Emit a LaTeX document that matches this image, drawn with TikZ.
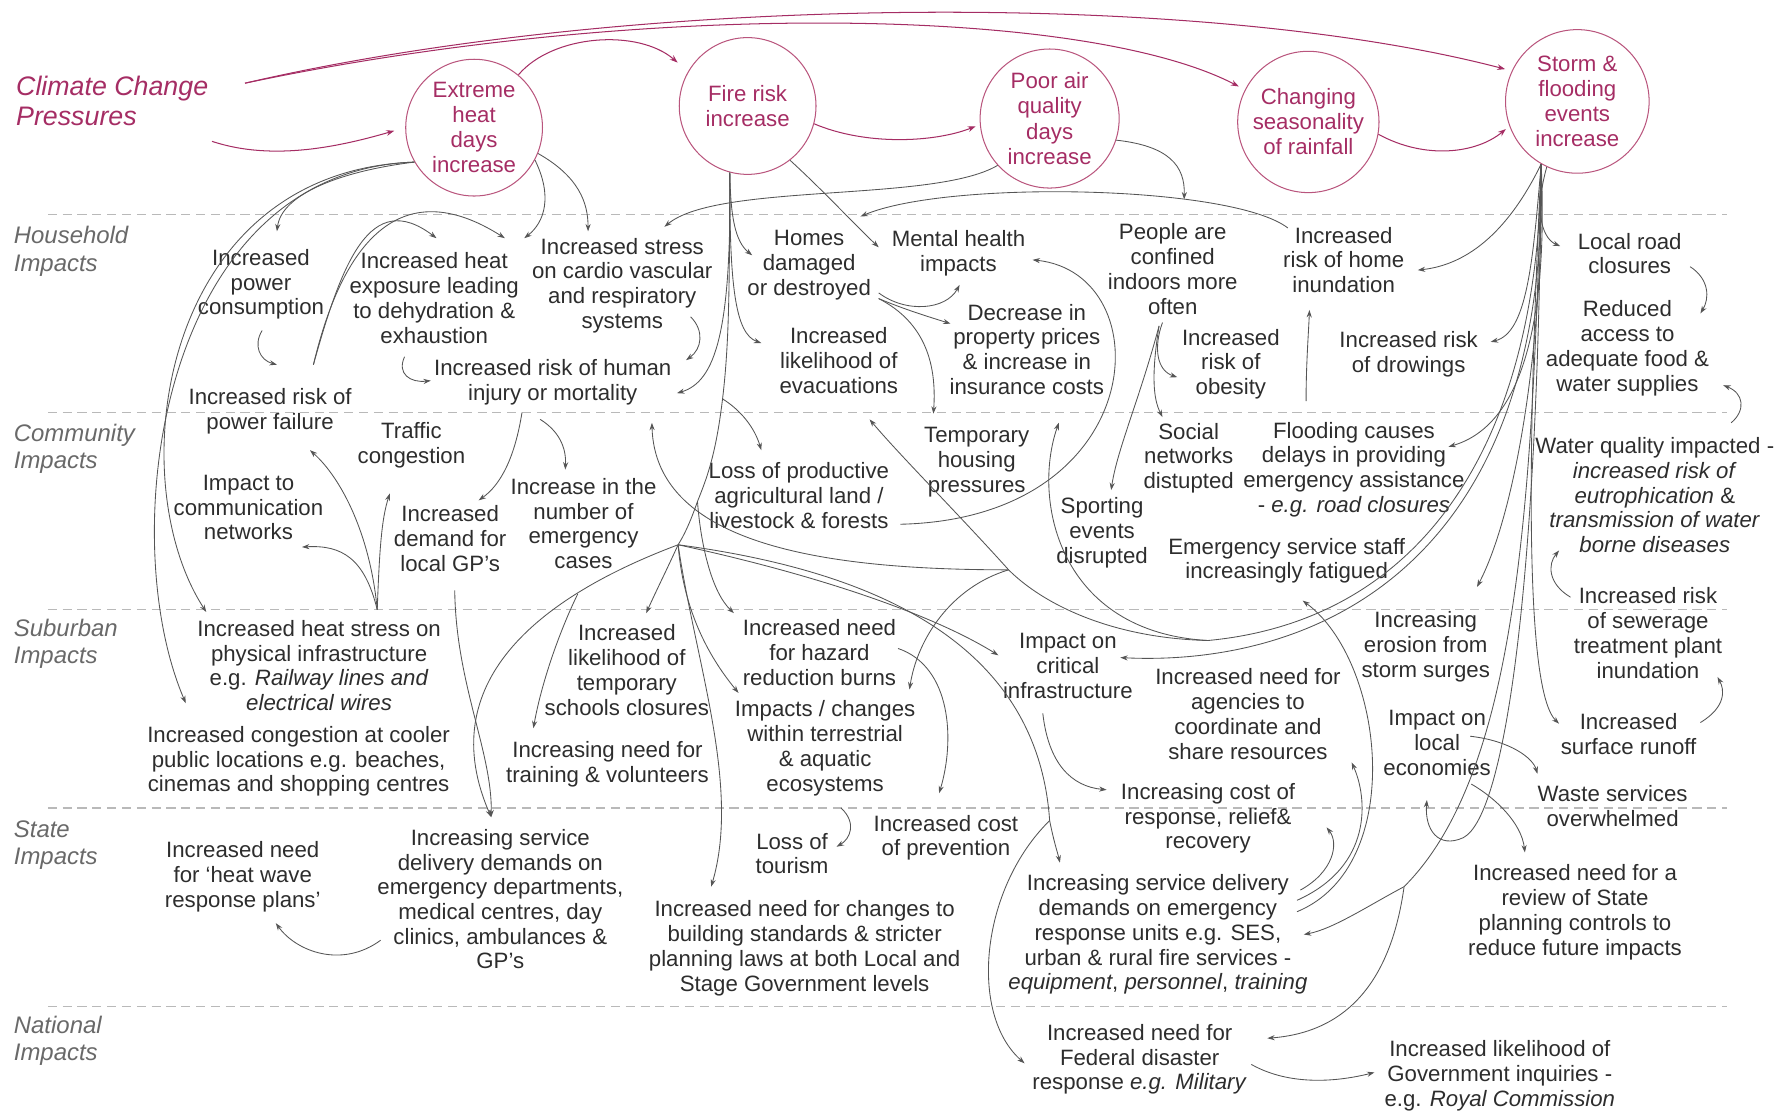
\documentclass[tikz,border=0pt]{standalone}
\usepackage{fontspec}
\setmainfont{Liberation Sans}
\usetikzlibrary{arrows.meta}
\definecolor{pinkc}{RGB}{165,45,100}
\definecolor{pinkl}{RGB}{185,85,125}
\definecolor{txt}{RGB}{45,45,45}
\definecolor{lab}{RGB}{105,105,105}
\definecolor{lnc}{RGB}{85,85,85}
\definecolor{dashc}{RGB}{185,185,185}
\begin{document}
\begin{tikzpicture}[x=1pt,y=1pt,
  tx/.style={align=center, text=txt, font=\fontsize{19.5}{21.7}\selectfont, inner sep=0pt},
  cir/.style={circle, draw=pinkl, line width=0.9pt, text=pinkc, align=center, font=\fontsize{19.5}{22}\selectfont, inner sep=0pt},
  rowlab/.style={anchor=west, align=left, text=lab, font=\fontsize{21}{24}\selectfont\itshape, inner sep=0pt},
  conn/.style={draw=lnc, line width=0.75pt, -{Stealth[length=6.5pt,width=4.5pt]}},
  trunk/.style={draw=lnc, line width=0.75pt},
  pconn/.style={draw=pinkc, line width=0.9pt, -{Stealth[length=7pt,width=5pt]}},
  sepline/.style={draw=dashc, line width=1pt, dash pattern=on 8pt off 5pt}]
\useasboundingbox (0,0) rectangle (1568,-976);

% separators
\draw[sepline] (42,-188) -- (1515,-188);
\draw[sepline] (42,-362) -- (1515,-362);
\draw[sepline] (42,-535) -- (1515,-535);
\draw[sepline] (42,-709) -- (1515,-709);
\draw[sepline] (42,-883) -- (1515,-883);

% labels
\node[rowlab, text=pinkc, font=\fontsize{23.5}{27}\selectfont\itshape] (ccp) at (14,-88.5) {Climate Change\\Pressures};
\node[rowlab] (hh) at (12,-220.5) {Household\\Impacts};
\node[rowlab] (com) at (12,-394) {Community\\Impacts};
\node[rowlab] (sub) at (12,-565) {Suburban\\Impacts};
\node[rowlab] (sta) at (12,-741.5) {State\\Impacts};
\node[rowlab] (nat) at (12,-913) {National\\Impacts};
\coordinate (ccpA) at (186,-124);
\coordinate (ccpB) at (215,-73);

% pressures
\node[cir, minimum size=120pt] (E) at (416,-112) {Extreme\\heat\\days\\increase};
\node[cir, minimum size=120pt] (F) at (656,-93) {Fire risk\\increase};
\node[cir, minimum size=122pt] (P) at (921,-104) {Poor air\\quality\\days\\increase};
\node[cir, minimum size=124pt] (C) at (1148,-107) {Changing\\seasonality\\of rainfall};
\node[cir, minimum size=126pt] (S) at (1384,-89) {Storm \&\\flooding\\events\\increase};

% household
\node[tx] (pc) at (229,-249.5) {Increased\\power\\consumption};
\node[tx] (he) at (381,-261.5) {Increased heat\\exposure leading\\to dehydration \&\\exhaustion};
\node[tx] (st) at (546,-250.5) {Increased stress\\on cardio vascular\\and respiratory\\systems};
\node[tx] (hd) at (710,-232.5) {Homes\\damaged\\or destroyed};
\node[tx] (mh) at (841,-222) {Mental health\\impacts};
\node[tx] (pcf) at (1029,-236) {People are\\confined\\indoors more\\often};
\node[tx] (rhi) at (1179,-228) {Increased\\risk of home\\inundation};
\node[tx] (lrc) at (1430,-222.5) {Local road\\closures};
\node[tx] (raf) at (1428,-305.5) {Reduced\\access to\\adequate food \&\\water supplies};
\node[tx] (ir) at (485,-335.5) {Increased risk of human\\injury or mortality};
\node[tx] (ev) at (736,-316.5) {Increased\\likelihood of\\evacuations};
\node[tx] (dp) at (901,-306.5) {Decrease in\\property prices\\\& increase in\\insurance costs};
\node[tx] (ob) at (1080,-319.5) {Increased\\risk of\\obesity};
\node[tx] (dr) at (1236,-311) {Increased risk\\of drowings};
\node[tx] (pf) at (237,-361) {Increased risk of\\power failure};

% community
\node[tx] (tc) at (361,-391) {Traffic\\congestion};
\node[tx] (icn) at (218,-445.5) {Impact to\\communication\\networks};
\node[tx] (gp) at (395,-472.5) {Increased\\demand for\\local GP's};
\node[tx] (ec) at (512,-459.5) {Increase in the\\number of\\emergency\\cases};
\node[tx] (lp) at (701,-435) {Loss of productive\\agricultural land /\\livestock \& forests};
\node[tx] (th) at (857,-405.5) {Temporary\\housing\\pressures};
\node[tx] (sn) at (1043,-402) {Social\\networks\\distupted};
\node[tx] (fc) at (1188,-412) {Flooding causes\\delays in providing\\emergency assistance\\- \textit{e.g. road closures}};
\node[tx] (se) at (967,-467.5) {Sporting\\events\\disrupted};
\node[tx] (esf) at (1129,-492) {Emergency service staff\\increasingly fatigued};
\node[tx] (wq) at (1452,-434.5) {Water quality impacted -\\\textit{increased risk of}\\\textit{eutrophication} \&\\\textit{transmission of water}\\\textit{borne diseases}};
\node[tx] (sw) at (1446,-555.5) {Increased risk\\of sewerage\\treatment plant\\inundation};

% suburban
\node[tx] (hs) at (280,-584) {Increased heat stress on\\physical infrastructure\\e.g. \textit{Railway lines and}\\\textit{electrical wires}};
\node[tx] (cc) at (262,-668) {Increased congestion at cooler\\public locations e.g. beaches,\\cinemas and shopping centres};
\node[tx] (sc) at (550,-588) {Increased\\likelihood of\\temporary\\schools closures};
\node[tx] (tv) at (533,-670.5) {Increasing need for\\training \& volunteers};
\node[tx] (hr) at (719,-572.5) {Increased need\\for hazard\\reduction burns};
\node[tx] (eco) at (724,-656.5) {Impacts / changes\\within terrestrial\\\& aquatic\\ecosystems};
\node[tx] (ci) at (937,-584.5) {Impact on\\critical\\infrastructure};
\node[tx] (ag) at (1095,-626.5) {Increased need for\\agencies to\\coordinate and\\share resources};
\node[tx] (er) at (1251,-567.5) {Increasing\\erosion from\\storm surges};
\node[tx] (le) at (1261,-652) {Impact on\\local\\economies};
\node[tx] (sr) at (1429,-644) {Increased\\surface runoff};
\node[tx] (ws) at (1415,-707) {Waste services\\overwhelmed};
\node[tx] (icr) at (1060,-718) {Increasing cost of\\response, relief\&\\recovery};
\node[tx] (cp) at (830,-735) {Increased cost\\of prevention};

% state
\node[tx] (hw) at (213,-769.5) {Increased need\\for `heat wave\\response plans'};
\node[tx] (sd) at (439,-789) {Increasing service\\delivery demands on\\emergency departments,\\medical centres, day\\clinics, ambulances \&\\GP's};
\node[tx] (lt) at (695,-749) {Loss of\\tourism};
\node[tx] (bs) at (706,-832) {Increased need for changes to\\building standards \& stricter\\planning laws at both Local and\\Stage Government levels};
\node[tx] (ru) at (1016,-820) {Increasing service delivery\\demands on emergency\\response units e.g. SES,\\urban \& rural fire services -\\\textit{equipment}, \textit{personnel}, \textit{training}};
\node[tx] (rv) at (1382,-800.5) {Increased need for a\\review of State\\planning controls to\\reduce future impacts};

% national
\node[tx] (fd) at (1000,-929.5) {Increased need for\\Federal disaster\\response \textit{e.g. Military}};
\node[tx] (gi) at (1316,-944) {Increased likelihood of\\Government inquiries -\\e.g. \textit{Royal Commission}};

% junctions
\coordinate (jA) at (634,-350);
\coordinate (jB) at (612,-440);
\coordinate (jC) at (595,-478);
\coordinate (jR) at (921,-720);
\coordinate (jSR) at (1232,-778);
\coordinate (jS1) at (1060,-562);
\coordinate (jS2) at (885,-500);

% pink connectors
\draw[pconn, shorten >=10pt] (ccpA) .. controls (240,-142) and (300,-128) .. (E.180);
\draw[pconn, shorten >=6pt] (ccpB) .. controls (550,5) and (1050,10) .. (S.155);
\draw[pconn, shorten >=6pt] (ccpB) .. controls (560,0) and (950,-5) .. (C.153);
\draw[pconn, shorten >=12pt] (E.50) .. controls (485,-30) and (560,-25) .. (F.150);
\draw[pconn, shorten >=4pt] (F.-15) .. controls (760,-128) and (820,-125) .. (P.185);
\draw[pconn, shorten >=4pt] (C.-10) .. controls (1250,-140) and (1295,-135) .. (S.200);

% extreme heat
\draw[conn] (E.210) .. controls (300,-150) and (247,-170) .. ([shift={(14,46.5)}]pc.center);
\draw[conn] (E.210) .. controls (140,-150) and (105,-420) .. ([shift={(-99,47)}]hs.center);
\draw[conn] (E.210) .. controls (140,-150) and (100,-470) .. ([shift={(-99,51)}]cc.center);
\draw[conn] (E.-28) .. controls (485,-172) and (478,-195) .. ([shift={(79,52.5)}]he.center);
\draw[conn] (E.-22) .. controls (508,-155) and (516,-178) .. ([shift={(-30,47.5)}]st.center);
\draw[conn] ([shift={(1,-40.5)}]pc.center) .. controls (222,-303) and (228,-316) .. ([shift={(6,41)}]pf.center);
\draw[conn] ([shift={(38,41)}]pf.center) .. controls (300,-230) and (325,-165) .. ([shift={(2,52.5)}]he.center);
\draw[conn] ([shift={(38,41)}]pf.center) .. controls (300,-215) and (350,-150) .. ([shift={(62,52.5)}]he.center);
\draw[conn] ([shift={(-26,-51.5)}]he.center) .. controls (348,-328) and (360,-336) .. ([shift={(-107,1.5)}]ir.center);
\draw[conn] ([shift={(60,-27.5)}]st.center) .. controls (618,-290) and (616,-306) .. ([shift={(117,19.5)}]ir.center);
\draw[conn] (P.222) .. controls (820,-178) and (630,-160) .. ([shift={(37,51.5)}]st.center);

% fire
\draw[conn] (F.255) .. controls (641,-190) and (645,-212) .. ([shift={(-50,8.5)}]hd.center);
\draw[conn] (F.255) .. controls (640,-250) and (645,-293) .. ([shift={(-68,15.5)}]ev.center);
\draw[conn] (F.255) .. controls (642,-290) and (628,-335) .. ([shift={(109,-9.5)}]ir.center);
\draw[conn] (F.-52) .. controls (720,-165) and (748,-195) .. ([shift={(-70,5)}]mh.center);
\draw[trunk] (F.255) .. controls (640,-250) and (640,-300) .. (jA) .. controls (628,-400) and (620,-420) .. (jB) .. controls (605,-460) and (600,-470) .. (jC);
\draw[conn] (jA) .. controls (650,-360) and (662,-375) .. ([shift={(-33,40)}]lp.center);
\draw[conn] (jB) .. controls (615,-480) and (625,-520) .. ([shift={(-75,34.5)}]hr.center);
\draw[conn] (jC) .. controls (585,-500) and (575,-520) .. ([shift={(17,50)}]sc.center);
\draw[conn] (jC) .. controls (600,-540) and (625,-580) .. ([shift={(-76,48.5)}]eco.center);
\draw[conn] (jC) .. controls (610,-580) and (650,-690) .. ([shift={(-82,54)}]bs.center);
\draw[conn] (jC) .. controls (470,-525) and (380,-600) .. ([shift={(-8,72)}]sd.center);
\draw[conn] (jC) .. controls (720,-505) and (820,-540) .. ([shift={(-61,9.5)}]ci.center);
\draw[conn] (jC) .. controls (760,-500) and (910,-560) .. (jR) .. controls (925,-740) and (928,-748) .. ([shift={(-86,63)}]ru.center);
\draw[conn] (jR) .. controls (860,-780) and (850,-890) .. ([shift={(-101,-3.5)}]fd.center);

% household others
\draw[conn] ([shift={(-49,28)}]rhi.center) .. controls (1080,-162) and (830,-158) .. ([shift={(45,42.5)}]hd.center);
\draw[conn] (P.-18) .. controls (1025,-128) and (1040,-145) .. ([shift={(10,61)}]pcf.center);
\draw[conn] ([shift={(61,-24.5)}]hd.center) .. controls (795,-275) and (830,-272) .. ([shift={(1,-28)}]mh.center);
\draw[conn] ([shift={(61,-29.5)}]hd.center) .. controls (795,-272) and (815,-278) .. ([shift={(-67,22.5)}]dp.center);
\draw[conn] ([shift={(61,-29.5)}]hd.center) .. controls (812,-283) and (822,-320) .. ([shift={(-38,42.5)}]th.center);
\draw[conn] ([shift={(89,-25)}]lp.center) .. controls (1010,-455) and (1020,-240) .. ([shift={(65,-6)}]mh.center);
\draw[conn] ([shift={(-9,-47)}]pcf.center) .. controls (1012,-305) and (1015,-325) .. ([shift={(-47,-11.5)}]ob.center);
\draw[conn] ([shift={(-12,-50)}]pcf.center) .. controls (1000,-350) and (980,-395) .. ([shift={(8,37.5)}]se.center);
\draw[conn] ([shift={(-12,-50)}]pcf.center) .. controls (1010,-330) and (1012,-350) .. ([shift={(-23,36)}]sn.center);

% storm
\draw[conn] (S.240) .. controls (1325,-200) and (1290,-232) .. ([shift={(65,-9)}]rhi.center);
\draw[conn] (S.245) .. controls (1345,-190) and (1355,-210) .. ([shift={(-61,6.5)}]lrc.center);
\draw[conn] (S.240) .. controls (1345,-230) and (1340,-292) .. ([shift={(72,11)}]dr.center);
\draw[conn] (S.240) .. controls (1358,-270) and (1340,-372) .. ([shift={(83,20)}]fc.center);
\draw[conn] (S.240) .. controls (1355,-300) and (1330,-450) .. ([shift={(45,52.5)}]er.center);
\draw[conn] (S.240) .. controls (1345,-300) and (1332,-600) .. ([shift={(-61,9)}]sr.center);
\draw[conn] (S.240) .. controls (1345,-450) and (1330,-680) .. (jSR) .. controls (1200,-795) and (1170,-815) .. ([shift={(128,0)}]ru.center);
\draw[conn] (jSR) .. controls (1222,-850) and (1190,-905) .. ([shift={(112,18.5)}]fd.center);
\draw[conn] (S.240) .. controls (1350,-500) and (1322,-715) .. (1284,-735) .. controls (1262,-745) and (1250,-728) .. ([shift={(-9,-50)}]le.center);
\draw[trunk] (S.240) .. controls (1350,-400) and (1240,-545) .. (jS1) .. controls (975,-560) and (915,-530) .. (jS2);
\draw[conn] (jS2) .. controls (840,-450) and (790,-400) .. ([shift={(27,-51.5)}]ev.center);
\draw[conn] (jS2) .. controls (730,-500) and (575,-480) .. ([shift={(87,-35.5)}]ir.center);
\draw[conn] (jS2) .. controls (835,-515) and (805,-560) .. ([shift={(74,51.5)}]eco.center);
\draw[conn] (jS1) .. controls (930,-555) and (905,-440) .. ([shift={(28,-64.5)}]dp.center);
\draw[conn] (S.240) .. controls (1360,-500) and (1150,-585) .. ([shift={(46,7.5)}]ci.center);

% right column
\draw[conn] ([shift={(29,6)}]le.center) .. controls (1325,-650) and (1345,-665) .. ([shift={(-66,28)}]ws.center);
\draw[conn] ([shift={(30,-36)}]le.center) .. controls (1312,-700) and (1335,-722) .. ([shift={(-44,52.5)}]rv.center);
\draw[conn] ([shift={(-68,31.5)}]sw.center) .. controls (1358,-512) and (1358,-495) .. ([shift={(-84,-48.5)}]wq.center);
\draw[conn] ([shift={(63,10)}]sr.center) .. controls (1515,-620) and (1513,-605) .. ([shift={(61,-38.5)}]sw.center);
\draw[conn] ([shift={(53,-11.5)}]lrc.center) .. controls (1500,-245) and (1500,-262) .. ([shift={(64,30.5)}]raf.center);
\draw[conn] ([shift={(67,63.5)}]wq.center) .. controls (1532,-360) and (1530,-345) .. ([shift={(84,-32.5)}]raf.center);
\draw[conn] ([shift={(-42,60)}]fc.center) .. controls (1146,-320) and (1148,-295) .. ([shift={(-30,-44)}]rhi.center);

% community / suburban left
\draw[conn] ([shift={(-27,-26.5)}]ir.center) .. controls (452,-400) and (440,-425) .. ([shift={(25,33.5)}]gp.center);
\draw[conn] ([shift={(-11,-32.5)}]ir.center) .. controls (490,-378) and (497,-392) .. ([shift={(-16,47.5)}]ec.center);
\draw[conn] ([shift={(51,49)}]hs.center) .. controls (325,-470) and (300,-420) .. ([shift={(35,-34)}]pf.center);
\draw[conn] ([shift={(51,49)}]hs.center) .. controls (333,-480) and (335,-455) .. ([shift={(-19,-42)}]tc.center);
\draw[conn] ([shift={(51,49)}]hs.center) .. controls (320,-490) and (300,-478) .. ([shift={(47,-34.5)}]icn.center);
\draw[conn] ([shift={(4,-45.5)}]gp.center) .. controls (400,-600) and (432,-660) .. ([shift={(-8,72)}]sd.center);
\draw[conn] ([shift={(-5,-61.5)}]ec.center) .. controls (490,-556) and (475,-600) .. ([shift={(-65,31.5)}]tv.center);

% lower middle
\draw[conn] ([shift={(98,-4.5)}]fd.center) .. controls (1130,-952) and (1170,-950) .. ([shift={(-110,3)}]gi.center);
\draw[conn] ([shift={(69,3.5)}]hr.center) .. controls (835,-585) and (838,-650) .. ([shift={(-6,39)}]cp.center);
\draw[conn] ([shift={(14,-52.5)}]eco.center) .. controls (752,-722) and (746,-736) .. ([shift={(39,6)}]lt.center);
\draw[conn] ([shift={(-105,-36)}]sd.center) .. controls (300,-850) and (260,-835) .. ([shift={(29,-40.5)}]hw.center);
\draw[conn] ([shift={(-22,-41.5)}]ci.center) .. controls (920,-670) and (940,-690) .. ([shift={(-89,25)}]icr.center);
\draw[conn] ([shift={(125,39)}]ru.center) .. controls (1170,-765) and (1175,-740) .. ([shift={(104,-8)}]icr.center);
\draw[conn] ([shift={(122,30)}]ru.center) .. controls (1205,-760) and (1200,-700) .. ([shift={(91,-42.5)}]ag.center);
\draw[conn] ([shift={(122,20)}]ru.center) .. controls (1235,-760) and (1215,-580) .. ([shift={(14,-35)}]esf.center);
\end{tikzpicture}
\end{document}
